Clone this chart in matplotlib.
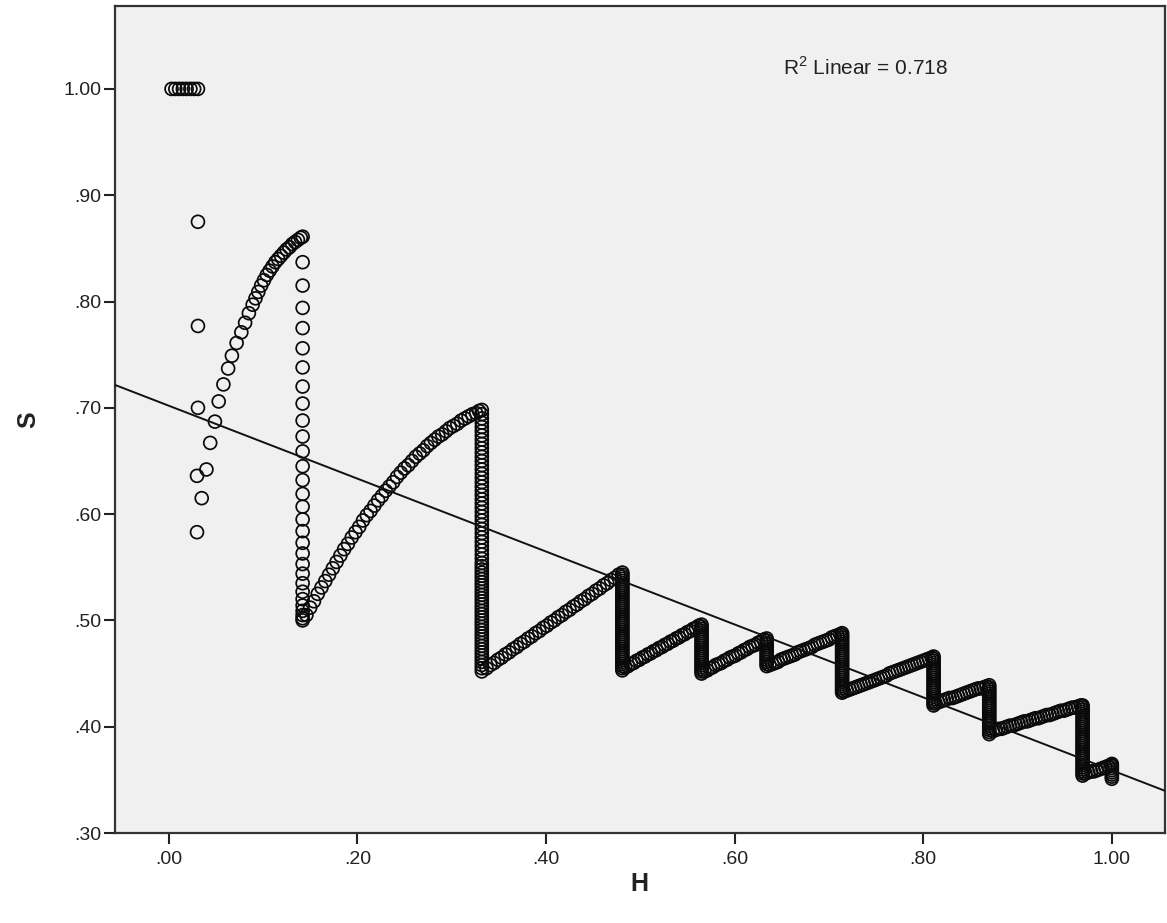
import numpy as np
import matplotlib.pyplot as plt

plt.rcParams['font.family'] = ['Liberation Sans', 'DejaVu Sans']
plt.rcParams['mathtext.fontset'] = 'custom'
plt.rcParams['mathtext.rm'] = 'Liberation Sans'

# row at S = 1.00
h_top = [0.003, 0.007, 0.011, 0.015, 0.019, 0.023, 0.027, 0.031]
s_top = [1.0, 1.0, 1.0, 1.0, 1.0, 1.0, 1.0, 1.0]

# loose points on the left
h_loose = [0.031, 0.031, 0.031, 0.030, 0.035, 0.030, 0.040, 0.044, 0.049]
s_loose = [0.875, 0.777, 0.700, 0.636, 0.615, 0.583, 0.642, 0.667, 0.687]

# first arc
h_arc1 = [0.053, 0.058, 0.063, 0.067, 0.072, 0.077, 0.081, 0.085, 0.089, 0.092,
          0.095, 0.098, 0.101, 0.104, 0.107, 0.110, 0.113, 0.116, 0.119, 0.122,
          0.125, 0.128, 0.131, 0.134, 0.137, 0.140, 0.142]
s_arc1 = [0.706, 0.722, 0.737, 0.749, 0.761, 0.771, 0.780, 0.789, 0.797, 0.803,
          0.809, 0.815, 0.820, 0.825, 0.829, 0.833, 0.837, 0.840, 0.843, 0.846,
          0.849, 0.851, 0.854, 0.856, 0.858, 0.860, 0.861]

# second arc
h_arc2 = [0.146, 0.150, 0.154, 0.158, 0.162, 0.166, 0.170, 0.174, 0.178, 0.182,
          0.186, 0.190, 0.194, 0.198, 0.202, 0.206, 0.210, 0.214, 0.218, 0.222,
          0.226, 0.230, 0.234, 0.238, 0.242, 0.246, 0.250, 0.254, 0.258, 0.262,
          0.266, 0.270, 0.274, 0.278, 0.282, 0.286, 0.290, 0.294, 0.298, 0.302,
          0.306, 0.310, 0.314, 0.318, 0.322, 0.326, 0.329, 0.332]
s_arc2 = [0.505, 0.512, 0.518, 0.525, 0.531, 0.537, 0.543, 0.549, 0.555, 0.561,
          0.567, 0.572, 0.578, 0.583, 0.588, 0.594, 0.599, 0.603, 0.608, 0.613,
          0.617, 0.622, 0.626, 0.630, 0.635, 0.639, 0.643, 0.646, 0.650, 0.654,
          0.657, 0.660, 0.664, 0.667, 0.670, 0.673, 0.675, 0.678, 0.681, 0.683,
          0.685, 0.688, 0.690, 0.692, 0.694, 0.695, 0.697, 0.698]

# rising runs
h_d1 = [0.337, 0.341, 0.345, 0.349, 0.353, 0.357, 0.361, 0.365, 0.369, 0.373,
        0.377, 0.381, 0.385, 0.389, 0.393, 0.397, 0.401, 0.405, 0.409, 0.413,
        0.417, 0.421, 0.425, 0.429, 0.433, 0.437, 0.441, 0.445, 0.449, 0.453,
        0.457, 0.461, 0.465, 0.469, 0.473, 0.477]
s_d1 = [0.455, 0.458, 0.460, 0.463, 0.465, 0.468, 0.470, 0.473, 0.475, 0.478,
        0.480, 0.483, 0.485, 0.488, 0.490, 0.493, 0.495, 0.498, 0.500, 0.503,
        0.505, 0.508, 0.510, 0.513, 0.515, 0.518, 0.520, 0.523, 0.525, 0.528,
        0.530, 0.533, 0.535, 0.538, 0.540, 0.543]
h_d2 = [0.484, 0.487, 0.490, 0.493, 0.496, 0.499, 0.502, 0.505, 0.508, 0.511,
        0.514, 0.517, 0.520, 0.523, 0.526, 0.529, 0.532, 0.535, 0.538, 0.541,
        0.544, 0.547, 0.550, 0.553, 0.556, 0.559, 0.562]
s_d2 = [0.456, 0.457, 0.459, 0.460, 0.462, 0.463, 0.465, 0.466, 0.468, 0.469,
        0.471, 0.472, 0.474, 0.475, 0.477, 0.478, 0.480, 0.481, 0.483, 0.484,
        0.486, 0.487, 0.489, 0.490, 0.492, 0.493, 0.495]
h_d3 = [0.568, 0.571, 0.574, 0.577, 0.580, 0.583, 0.586, 0.589, 0.592, 0.595,
        0.598, 0.601, 0.604, 0.607, 0.610, 0.613, 0.616, 0.619, 0.622, 0.625,
        0.628, 0.631]
s_d3 = [0.452, 0.453, 0.455, 0.456, 0.458, 0.459, 0.460, 0.462, 0.463, 0.465,
        0.466, 0.467, 0.469, 0.470, 0.472, 0.473, 0.475, 0.476, 0.477, 0.479,
        0.480, 0.482]
h_d4 = [0.637, 0.640, 0.643, 0.646, 0.649, 0.652, 0.655, 0.658, 0.661, 0.664,
        0.667, 0.670, 0.673, 0.676, 0.679, 0.682, 0.685, 0.688, 0.691, 0.694,
        0.697, 0.700, 0.703, 0.706, 0.709, 0.712]
s_d4 = [0.458, 0.459, 0.460, 0.461, 0.463, 0.464, 0.465, 0.466, 0.467, 0.468,
        0.470, 0.471, 0.472, 0.473, 0.474, 0.475, 0.477, 0.478, 0.479, 0.480,
        0.481, 0.482, 0.484, 0.485, 0.486, 0.487]
h_d5 = [0.716, 0.719, 0.722, 0.725, 0.728, 0.731, 0.734, 0.737, 0.740, 0.743,
        0.746, 0.749, 0.752, 0.755, 0.758, 0.761, 0.764, 0.767, 0.770, 0.773,
        0.776, 0.779, 0.782, 0.785, 0.788, 0.791, 0.794, 0.797, 0.800, 0.803,
        0.806, 0.809]
s_d5 = [0.433, 0.434, 0.435, 0.436, 0.437, 0.438, 0.439, 0.440, 0.441, 0.442,
        0.443, 0.444, 0.445, 0.446, 0.447, 0.448, 0.450, 0.451, 0.452, 0.453,
        0.454, 0.455, 0.456, 0.457, 0.458, 0.459, 0.460, 0.461, 0.462, 0.463,
        0.464, 0.465]
h_d6 = [0.813, 0.816, 0.819, 0.822, 0.825, 0.828, 0.831, 0.834, 0.837, 0.840,
        0.843, 0.846, 0.849, 0.852, 0.855, 0.858, 0.861, 0.864, 0.867]
s_d6 = [0.422, 0.423, 0.424, 0.425, 0.426, 0.427, 0.427, 0.428, 0.429, 0.430,
        0.431, 0.432, 0.433, 0.434, 0.435, 0.436, 0.436, 0.437, 0.438]
h_d7 = [0.874, 0.877, 0.880, 0.883, 0.886, 0.889, 0.892, 0.895, 0.898, 0.901,
        0.904, 0.907, 0.910, 0.913, 0.916, 0.919, 0.922, 0.925, 0.928, 0.931,
        0.934, 0.937, 0.940, 0.943, 0.946, 0.949, 0.952, 0.955, 0.958, 0.961,
        0.964, 0.967]
s_d7 = [0.396, 0.397, 0.398, 0.398, 0.399, 0.400, 0.401, 0.401, 0.402, 0.403,
        0.404, 0.405, 0.405, 0.406, 0.407, 0.408, 0.408, 0.409, 0.410, 0.411,
        0.411, 0.412, 0.413, 0.414, 0.415, 0.415, 0.416, 0.417, 0.418, 0.418,
        0.419, 0.420]
h_d8 = [0.972, 0.975, 0.978, 0.981, 0.984, 0.987, 0.990, 0.993, 0.996, 0.999]
s_d8 = [0.356, 0.357, 0.358, 0.358, 0.359, 0.360, 0.361, 0.362, 0.363, 0.364]

# vertical drops: one H value each, S values listed
h_c1 = 0.142
s_c1 = [0.837, 0.815, 0.794, 0.775, 0.756, 0.738, 0.720, 0.704, 0.688, 0.673,
        0.659, 0.645, 0.632, 0.619, 0.607, 0.595, 0.584, 0.573, 0.563, 0.553,
        0.544, 0.535, 0.527, 0.520, 0.514, 0.509, 0.505, 0.502, 0.500]
h_c2 = 0.332
s_c2 = [0.694, 0.690, 0.686, 0.682, 0.678, 0.674, 0.670, 0.666, 0.662, 0.658,
        0.654, 0.650, 0.646, 0.642, 0.638, 0.634, 0.630, 0.626, 0.622, 0.618,
        0.614, 0.610, 0.606, 0.602, 0.598, 0.594, 0.590, 0.586, 0.582, 0.578,
        0.574, 0.570, 0.566, 0.562, 0.558, 0.554, 0.551, 0.548, 0.545, 0.542,
        0.539, 0.536, 0.533, 0.530, 0.527, 0.524, 0.521, 0.518, 0.515, 0.512,
        0.509, 0.506, 0.503, 0.500, 0.497, 0.494, 0.491, 0.488, 0.485, 0.482,
        0.479, 0.476, 0.473, 0.470, 0.467, 0.464, 0.461, 0.458, 0.455, 0.452]
h_c3 = 0.481
s_c3 = [0.545, 0.543, 0.541, 0.539, 0.537, 0.535, 0.533, 0.531, 0.529, 0.527,
        0.525, 0.523, 0.521, 0.519, 0.517, 0.515, 0.513, 0.511, 0.509, 0.507,
        0.505, 0.503, 0.501, 0.499, 0.497, 0.495, 0.493, 0.491, 0.489, 0.487,
        0.485, 0.483, 0.481, 0.479, 0.477, 0.475, 0.473, 0.471, 0.469, 0.467,
        0.465, 0.463, 0.461, 0.459, 0.457, 0.455, 0.453]
h_c4 = 0.565
s_c4 = [0.496, 0.494, 0.492, 0.490, 0.488, 0.486, 0.484, 0.482, 0.480, 0.478,
        0.476, 0.474, 0.472, 0.470, 0.468, 0.466, 0.464, 0.462, 0.460, 0.458,
        0.456, 0.454, 0.452, 0.450]
h_c5 = 0.634
s_c5 = [0.483, 0.481, 0.479, 0.477, 0.475, 0.473, 0.471, 0.469, 0.467, 0.465,
        0.463, 0.461, 0.459, 0.457]
h_c6 = 0.714
s_c6 = [0.488, 0.486, 0.484, 0.482, 0.480, 0.478, 0.476, 0.474, 0.472, 0.470,
        0.468, 0.466, 0.464, 0.462, 0.460, 0.458, 0.456, 0.454, 0.452, 0.450,
        0.448, 0.446, 0.444, 0.442, 0.440, 0.438, 0.436, 0.434, 0.432]
h_c7 = 0.811
s_c7 = [0.466, 0.464, 0.462, 0.460, 0.458, 0.456, 0.454, 0.452, 0.450, 0.448,
        0.446, 0.444, 0.442, 0.440, 0.438, 0.436, 0.434, 0.432, 0.430, 0.428,
        0.426, 0.424, 0.422, 0.420]
h_c8 = 0.870
s_c8 = [0.439, 0.437, 0.435, 0.433, 0.431, 0.429, 0.427, 0.425, 0.423, 0.421,
        0.419, 0.417, 0.415, 0.413, 0.411, 0.409, 0.407, 0.405, 0.403, 0.401,
        0.399, 0.397, 0.395, 0.393]
h_c9 = 0.969
s_c9 = [0.420, 0.418, 0.416, 0.414, 0.412, 0.410, 0.408, 0.406, 0.404, 0.402,
        0.400, 0.398, 0.396, 0.394, 0.392, 0.390, 0.388, 0.386, 0.384, 0.382,
        0.380, 0.378, 0.376, 0.374, 0.372, 0.370, 0.368, 0.366, 0.364, 0.362,
        0.360, 0.358, 0.356, 0.354]
h_c10 = 1.000
s_c10 = [0.365, 0.363, 0.361, 0.359, 0.357, 0.355, 0.353, 0.351]

# linear fit shown on the chart
fit_intercept = 0.702
fit_slope = -0.343
r2_text = r'R$^{2}$ Linear = 0.718'

x_ticks = [0.0, 0.2, 0.4, 0.6, 0.8, 1.0]
x_tick_labels = ['.00', '.20', '.40', '.60', '.80', '1.00']
y_ticks = [0.3, 0.4, 0.5, 0.6, 0.7, 0.8, 0.9, 1.0]
y_tick_labels = ['.30', '.40', '.50', '.60', '.70', '.80', '.90', '1.00']

cols = [(h_c1, s_c1), (h_c2, s_c2), (h_c3, s_c3), (h_c4, s_c4), (h_c5, s_c5),
        (h_c6, s_c6), (h_c7, s_c7), (h_c8, s_c8), (h_c9, s_c9), (h_c10, s_c10)]
runs = [(h_top, s_top), (h_loose, s_loose), (h_arc1, s_arc1), (h_arc2, s_arc2),
        (h_d1, s_d1), (h_d2, s_d2), (h_d3, s_d3), (h_d4, s_d4), (h_d5, s_d5),
        (h_d6, s_d6), (h_d7, s_d7), (h_d8, s_d8)]

H = np.concatenate([np.array(h, float) for h, s in runs] +
                   [np.full(len(s), h) for h, s in cols])
S = np.concatenate([np.array(s, float) for h, s in runs] +
                   [np.array(s, float) for h, s in cols])

fig = plt.figure(figsize=(11.67, 9.23), dpi=100)
ax = fig.add_axes([0.0985, 0.0975, 0.8995, 0.896])
ax.set_facecolor('#f0f0f0')

ax.scatter(H, S, s=86, facecolors='none', edgecolors='#0a0a0a',
           linewidths=1.25, zorder=3)

xmin, xmax = -0.057, 1.056
xl = np.array([xmin, xmax])
ax.plot(xl, fit_intercept + fit_slope * xl, color='#111111', lw=1.4, zorder=4)

ax.set_xlim(xmin, xmax)
ax.set_ylim(0.30, 1.078)
ax.set_xticks(x_ticks)
ax.set_xticklabels(x_tick_labels)
ax.set_yticks(y_ticks)
ax.set_yticklabels(y_tick_labels)
ax.tick_params(axis='both', direction='out', length=8, width=1.5,
               labelsize=14, color='#222222', labelcolor='#222222')
ax.tick_params(axis='x', pad=5)
ax.tick_params(axis='y', pad=2)
for sp in ax.spines.values():
    sp.set_color('#333333')
    sp.set_linewidth(1.6)

ax.set_xlabel('H', fontsize=18, fontweight='bold', color='#222222')
ax.xaxis.set_label_coords(0.5, -0.062)
ax.xaxis.label.set_va('center')
ax.set_ylabel('S', fontsize=18, fontweight='bold', color='#222222')
ax.yaxis.set_label_coords(-0.083, 0.5)
ax.yaxis.label.set_va('center')

ax.text(0.636, 0.926, r2_text, transform=ax.transAxes, fontsize=15,
        ha='left', va='center', color='#222222')

fig.savefig('out.png', dpi=100)
